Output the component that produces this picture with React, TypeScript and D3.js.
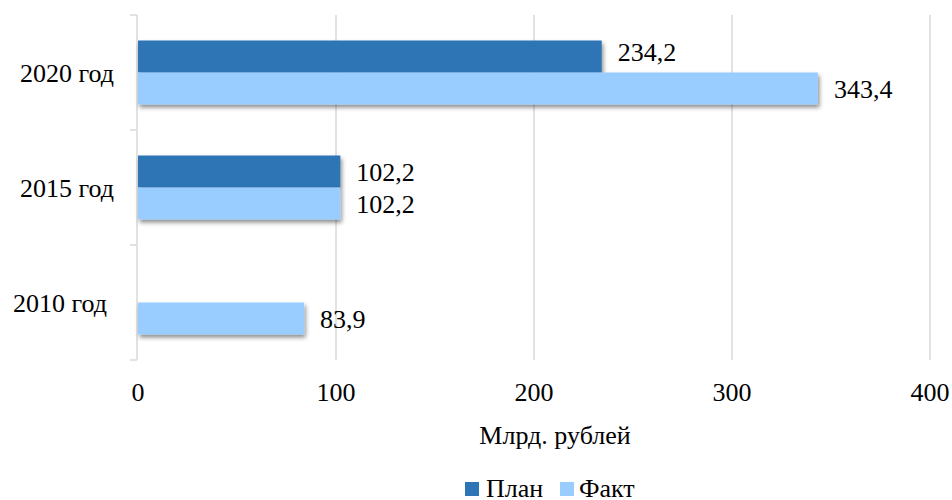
import React from 'react';
import * as d3 from 'd3';

// Data
const categories = ['2020 год', '2015 год', '2010 год'];
const series = ['План', 'Факт'];
const planValues: (number | null)[] = [234.2, 102.2, null];
const factValues: (number | null)[] = [343.4, 102.2, 83.9];
const xTicks = [0, 100, 200, 300, 400];
const axisTitle = 'Млрд. рублей';

const colors: Record<string, string> = { 'План': '#2E75B6', 'Факт': '#99CCFF' };
const textStyle: React.CSSProperties = { fontFamily: 'Liberation Serif', fontSize: 26 };

const App: React.FC = () => {
  const width = 952;
  const height = 500;
  const x = d3.scaleLinear().domain([0, 400]).range([138, 930]);
  const y0 = d3.scaleBand<string>().domain(categories).range([15, 360]).padding(0);
  const y1 = d3.scaleBand<string>().domain(series).range([25.5, 89.5]).padding(0);
  const values: Record<string, (number | null)[]> = { 'План': planValues, 'Факт': factValues };
  const fmt = (v: number) => v.toFixed(1).replace('.', ',');
  const axisX = x(0) - 1;

  return <svg width={width} height={height} style={{ position: 'absolute', left: 0, top: 0, background: '#fff' }}>
      <defs>
        <filter id="shadow" x="-5%" y="-30%" width="115%" height="180%">
          <feDropShadow dx="1.5" dy="3" stdDeviation="2" floodColor="#000" floodOpacity="0.45" />
        </filter>
      </defs>
      {/* gridlines */}
      {xTicks.filter(t => t > 0).map(t => <line key={t} x1={x(t)} x2={x(t)} y1={15} y2={360} stroke="#d9d9d9" strokeWidth={1.5} />)}
      {/* category axis */}
      <line x1={axisX} x2={axisX} y1={15} y2={360} stroke="#d9d9d9" strokeWidth={1.5} />
      {[...categories.map(c => y0(c) as number), 360].map((yy, i) => <line key={i} x1={axisX - 7} x2={axisX} y1={yy} y2={yy} stroke="#d9d9d9" strokeWidth={1.5} />)}
      {categories.map((c, ci) => <text key={c} x={ci === 2 ? 107 : 114} y={(y0(c) as number) + y0.bandwidth() / 2 + 9} textAnchor="end" style={textStyle} fill="#000">{c}</text>)}
      {/* bars */}
      {categories.map((c, ci) => series.map(s => {
      const v = values[s][ci];
      if (v == null) return null;
      const by = (y0(c) as number) + (y1(s) as number);
      return <rect key={c + s} x={x(0)} y={by} width={x(v) - x(0)} height={y1.bandwidth()} fill={colors[s]} filter="url(#shadow)" />;
    }))}
      {/* data labels */}
      {categories.map((c, ci) => series.map(s => {
      const v = values[s][ci];
      if (v == null) return null;
      const by = (y0(c) as number) + (y1(s) as number);
      const shift = ci === 0 && s === 'План' ? -5 : 0;
      return <text key={'l' + c + s} x={x(v) + 16} y={by + y1.bandwidth() / 2 + 9 + shift} style={textStyle} fill="#000">{fmt(v)}</text>;
    }))}
      {/* x tick labels */}
      {xTicks.map(t => <text key={'t' + t} x={x(t)} y={401} textAnchor="middle" style={textStyle} fill="#000">{t}</text>)}
      <text x={555} y={444} textAnchor="middle" style={textStyle} fill="#000">{axisTitle}</text>
      {/* legend */}
      <rect x={465} y={482} width={14} height={14} fill={colors['План']} />
      <text x={486} y={497} style={textStyle} fill="#000">План</text>
      <rect x={560} y={482} width={14} height={14} fill={colors['Факт']} />
      <text x={579} y={497} style={textStyle} fill="#000">Факт</text>
    </svg>;
};

export default App;
